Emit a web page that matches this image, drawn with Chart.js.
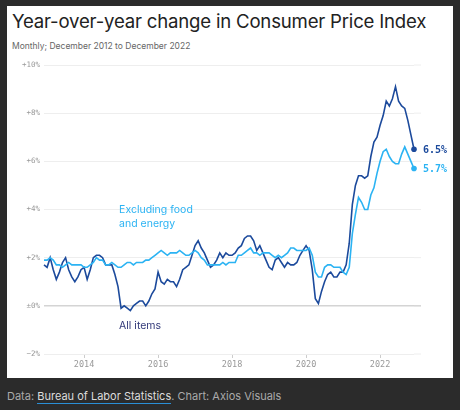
<!DOCTYPE html>
<html><head><meta charset="utf-8">
<script src="https://cdn.jsdelivr.net/npm/chart.js@4"></script>
<style>
html,body{margin:0;padding:0;background:#2b2b2b;width:460px;height:410px;overflow:hidden;font-family:Inter,"Noto Sans",sans-serif}
#card{position:absolute;left:7px;top:6px;width:446px;height:372px;background:#fff}
#title{position:absolute;left:5px;top:4px;font-size:18.6px;color:#222;letter-spacing:-0.2px;white-space:nowrap}
#sub{position:absolute;left:5px;top:35px;font-size:8.5px;color:#666}
#wrap{position:absolute;left:0;top:50px;width:446px;height:322px}
#foot{position:absolute;left:7px;top:389px;font-size:11px;color:#aaa}
#foot span{color:#ddd;border-bottom:1px solid #2a8fd6}
</style></head><body>
<div id="card">
<div id="title">Year-over-year change in Consumer Price Index</div>
<div id="sub">Monthly; December 2012 to December 2022</div>
<div id="wrap"><canvas id="c"></canvas></div>
</div>
<div id="foot">Data: <span>Bureau of Labor Statistics</span>. Chart: Axios Visuals</div>
<script>
const years = [2013,2014,2015,2016,2017,2018,2019,2020,2021,2022];
const months = ["2012-12"];
years.forEach(y=>{for(let m=1;m<=12;m++)months.push(y+"-"+String(m).padStart(2,"0"));});
const allItems = [1.7,
1.6,2.0,1.5,1.1,1.4,1.8,2.0,1.5,1.2,1.0,1.2,1.5,
1.6,1.1,1.5,2.0,2.1,2.1,2.0,1.7,1.7,1.7,1.3,0.8,
-0.1,0.0,-0.1,-0.2,0.0,0.1,0.2,0.2,0.0,0.2,0.5,0.7,
1.4,1.0,0.9,1.1,1.0,1.0,0.8,1.1,1.5,1.6,1.7,2.1,
2.5,2.7,2.4,2.2,1.9,1.6,1.7,1.9,2.2,2.0,2.2,2.1,
2.1,2.2,2.4,2.5,2.8,2.9,2.9,2.7,2.3,2.5,2.2,1.9,
1.6,1.5,1.9,2.0,1.8,1.6,1.8,1.7,1.7,1.8,2.1,2.3,
2.5,2.3,1.5,0.3,0.1,0.6,1.0,1.3,1.4,1.2,1.2,1.4,
1.4,1.7,2.6,4.2,5.0,5.4,5.4,5.3,5.4,6.2,6.8,7.0,
7.5,7.9,8.5,8.3,8.6,9.1,8.5,8.3,8.2,7.7,7.1,6.5];
const core = [1.9,
1.9,2.0,1.9,1.7,1.7,1.6,1.7,1.8,1.7,1.7,1.7,1.7,
1.6,1.6,1.7,1.8,2.0,1.9,1.9,1.7,1.7,1.8,1.7,1.6,
1.6,1.7,1.8,1.8,1.7,1.8,1.8,1.8,1.9,1.9,2.0,2.1,
2.2,2.3,2.2,2.1,2.2,2.2,2.2,2.3,2.2,2.1,2.1,2.2,
2.3,2.2,2.0,1.9,1.7,1.7,1.7,1.7,1.7,1.8,1.7,1.8,
1.8,1.8,2.1,2.1,2.2,2.3,2.4,2.2,2.2,2.1,2.2,2.2,
2.2,2.1,2.0,2.1,2.0,2.1,2.2,2.4,2.4,2.3,2.3,2.3,
2.3,2.4,2.1,1.4,1.2,1.2,1.6,1.7,1.7,1.6,1.6,1.6,
1.4,1.3,1.6,3.0,3.8,4.5,4.3,4.0,4.0,4.6,4.9,5.5,
6.0,6.4,6.5,6.2,6.0,5.9,5.9,6.3,6.6,6.3,6.0,5.7];
const yTicks = {10:"+10%",8:"+8%",6:"+6%",4:"+4%",2:"+2%",0:"±0%","-2":"−2%"};
const NAVY="#1c4a9c", SKY="#2bb3f3";
const mono='"DejaVu Sans Mono", monospace';
const gridExt = {
  id:"gridExt",
  beforeDatasetsDraw(ch){
    const {ctx,chartArea,scales:{y}}=ch;
    ctx.save();
    y.ticks.forEach(t=>{
      const py=y.getPixelForValue(t.value);
      ctx.strokeStyle=t.value===0?"#d4d4d4":"#eeeeee";
      ctx.lineWidth=t.value===0?1.5:1;
      ctx.beginPath();ctx.moveTo(chartArea.right,py);ctx.lineTo(chartArea.right+7,py);ctx.stroke();
    });
    ctx.restore();
  }
};
const labels = {
  id:"labels",
  afterDatasetsDraw(ch){
    const {ctx,scales:{x,y}}=ch;
    ctx.save();
    ctx.font='10.5px Inter, "Noto Sans", sans-serif';
    ctx.textBaseline="middle";
    ctx.fillStyle=SKY;
    ctx.fillText("Excluding food",x.getPixelForValue(25)-2,y.getPixelForValue(4.0));
    ctx.fillText("and energy",x.getPixelForValue(25)-2,y.getPixelForValue(3.42));
    ctx.fillStyle="#333a7a";
    ctx.fillText("All items",x.getPixelForValue(25)-2,y.getPixelForValue(-0.83));
    const n=months.length-1;
    ctx.font='bold 10px '+mono;
    ctx.fillStyle=NAVY;
    ctx.fillText(allItems[n].toFixed(1)+"%",x.getPixelForValue(n)+9,y.getPixelForValue(allItems[n])+1);
    ctx.fillStyle=SKY;
    ctx.fillText(core[n].toFixed(1)+"%",x.getPixelForValue(n)+9,y.getPixelForValue(core[n])+1);
    ctx.restore();
  }
};
new Chart(document.getElementById("c"),{
  type:"line",
  data:{labels:months,datasets:[
    {data:core,borderColor:SKY,borderWidth:1.6,tension:0,pointRadius:months.map((m,i)=>i===months.length-1?2.8:0),pointBackgroundColor:SKY,pointBorderWidth:0},
    {data:allItems,borderColor:NAVY,borderWidth:1.6,tension:0,pointRadius:months.map((m,i)=>i===months.length-1?2.8:0),pointBackgroundColor:NAVY,pointBorderWidth:0}
  ]},
  options:{
    responsive:true,maintainAspectRatio:false,animation:false,
    layout:{padding:{top:9,right:39,left:0,bottom:0}},
    plugins:{legend:{display:false},tooltip:{enabled:false}},
    scales:{
      x:{type:"category",offset:false,
        grid:{display:true,drawOnChartArea:false,drawTicks:true,tickLength:4,color:"#ccc"},
        border:{display:false},
        ticks:{autoSkip:false,maxRotation:0,color:"#999",font:{family:mono,size:8.5},padding:2,
          callback(v,i){const m=months[i];const yy=+m.slice(0,4);return (m.endsWith("-01")&&yy%2===0)?String(yy):null;}},
        afterFit(s){s.height=24;}
      },
      y:{min:-2,max:10,
        grid:{color:c=>c.tick.value===0?"#d4d4d4":"#eeeeee",lineWidth:c=>c.tick.value===0?1.5:1,drawTicks:false},
        border:{display:false},
        ticks:{stepSize:2,color:"#999",font:{family:mono,size:7.5},padding:4,
          callback:v=>yTicks[v]},
        afterFit(s){s.width=37;}
      }
    }
  },
  plugins:[gridExt,labels]
});
</script>
</body></html>
